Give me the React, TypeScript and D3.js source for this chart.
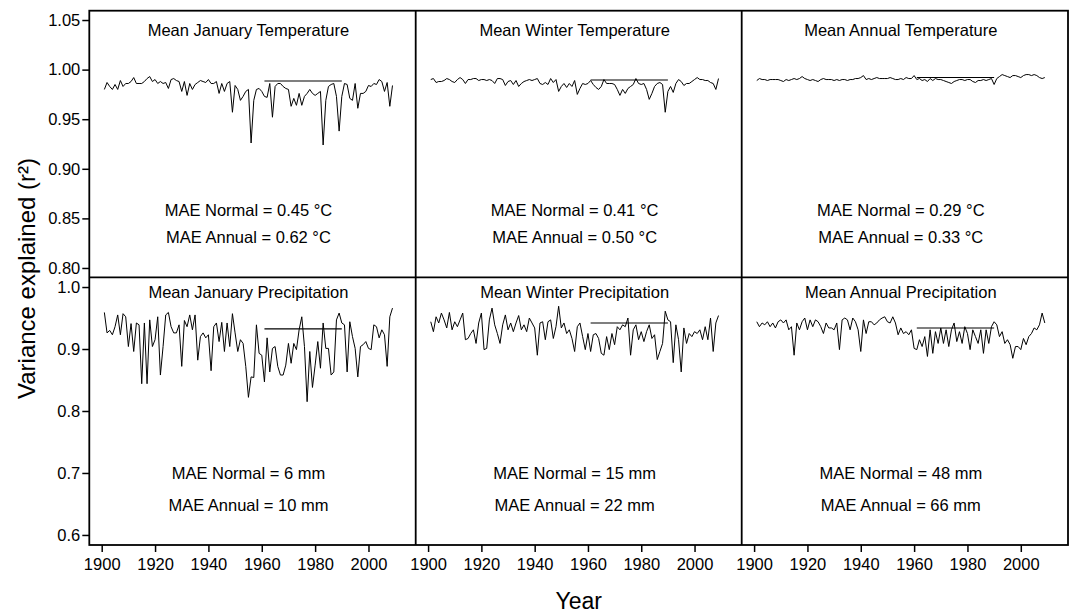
import React, { useEffect, useRef } from 'react';
import * as d3 from 'd3';

// yearly r² values, 1901-2009
const startYear = 1901;

const janTemp = [
    .980, .987, .983, .980, .985, .980, .989, .983, .986, .986,
    .988, .992, .986, .986, .986, .988, .991, .993, .988, .990,
    .986, .988, .986, .987, .981, .990, .991, .989, .988, .978,
    .988, .974, .986, .980, .985, .987, .989, .988, .987, .990,
    .986, .986, .988, .976, .986, .978, .986, .988, .957, .984,
    .980, .969, .973, .978, .980, .926, .969, .980, .981, .978,
    .973, .972, .986, .952, .983, .986, .986, .983, .981, .980,
    .963, .971, .964, .976, .964, .973, .976, .980, .976, .974,
    .976, .978, .924, .969, .983, .985, .986, .973, .938, .973,
    .986, .985, .971, .969, .986, .961, .976, .976, .978, .984,
    .983, .986, .985, .990, .988, .978, .987, .963, .984
];

const winTemp = [
    .990, .991, .987, .988, .988, .989, .991, .990, .988, .987,
    .990, .992, .990, .986, .990, .990, .991, .991, .989, .990,
    .990, .989, .990, .989, .986, .991, .991, .990, .984, .988,
    .989, .985, .989, .983, .986, .988, .989, .990, .989, .990,
    .991, .986, .985, .987, .985, .991, .987, .990, .978, .983,
    .986, .982, .986, .983, .989, .975, .981, .986, .985, .986,
    .989, .985, .982, .980, .983, .990, .986, .986, .986, .985,
    .980, .974, .980, .976, .981, .983, .985, .991, .986, .985,
    .986, .980, .970, .976, .983, .986, .987, .985, .957, .978,
    .983, .977, .986, .990, .988, .984, .986, .986, .988, .990,
    .992, .990, .990, .989, .989, .987, .986, .980, .991
];

const annTemp = [
    .989, .991, .990, .990, .989, .990, .990, .990, .990, .989,
    .988, .990, .989, .990, .991, .990, .991, .993, .991, .990,
    .989, .990, .989, .988, .990, .991, .990, .990, .990, .989,
    .990, .989, .990, .990, .989, .990, .990, .991, .991, .992,
    .994, .990, .991, .990, .991, .992, .991, .991, .991, .991,
    .992, .991, .990, .990, .991, .990, .992, .991, .991, .994,
    .990, .991, .989, .990, .988, .991, .989, .991, .990, .990,
    .989, .988, .987, .986, .988, .989, .990, .990, .989, .990,
    .990, .988, .987, .989, .989, .990, .989, .990, .991, .985,
    .991, .993, .995, .994, .993, .992, .994, .994, .993, .992,
    .994, .995, .995, .994, .995, .994, .992, .991, .992
];

const janPrec = [
    .959, .926, .930, .923, .936, .955, .923, .957, .952, .904,
    .941, .896, .942, .939, .844, .942, .844, .947, .904, .915,
    .952, .858, .904, .955, .959, .936, .926, .926, .939, .872,
    .946, .936, .955, .931, .955, .882, .920, .926, .918, .923,
    .865, .936, .942, .912, .943, .896, .942, .904, .957, .926,
    .896, .915, .909, .872, .822, .855, .854, .939, .893, .890,
    .847, .918, .863, .901, .904, .872, .858, .858, .874, .909,
    .877, .909, .899, .931, .952, .904, .815, .896, .838, .874,
    .912, .869, .942, .901, .901, .858, .863, .947, .958, .942,
    .939, .863, .944, .920, .901, .855, .904, .907, .912, .901,
    .899, .939, .936, .918, .931, .923, .872, .952, .966
];

const winPrec = [
    .944, .928, .952, .942, .958, .947, .934, .959, .931, .944,
    .936, .947, .958, .915, .917, .925, .931, .909, .942, .958,
    .899, .901, .947, .966, .939, .925, .909, .939, .955, .931,
    .942, .928, .942, .954, .931, .939, .928, .950, .942, .934,
    .890, .942, .944, .915, .944, .947, .917, .936, .969, .934,
    .942, .925, .931, .917, .896, .936, .942, .920, .899, .925,
    .896, .923, .925, .917, .893, .890, .920, .899, .925, .907,
    .936, .931, .939, .936, .950, .890, .931, .939, .915, .928,
    .912, .928, .939, .917, .923, .883, .896, .909, .961, .947,
    .944, .878, .939, .915, .863, .934, .909, .925, .920, .928,
    .925, .931, .915, .936, .915, .950, .896, .942, .954
];

const annPrec = [
    .944, .936, .942, .939, .944, .936, .942, .934, .944, .947,
    .942, .947, .931, .936, .890, .942, .931, .944, .950, .931,
    .947, .936, .947, .944, .936, .925, .942, .934, .934, .931,
    .942, .899, .947, .950, .947, .931, .950, .944, .931, .896,
    .947, .925, .944, .944, .939, .942, .947, .950, .952, .944,
    .942, .952, .942, .923, .934, .925, .928, .923, .931, .901,
    .899, .915, .904, .920, .888, .931, .893, .928, .909, .934,
    .909, .931, .904, .931, .942, .912, .928, .909, .936, .925,
    .899, .931, .920, .909, .931, .893, .931, .909, .936, .944,
    .939, .920, .928, .909, .915, .907, .885, .904, .904, .899,
    .917, .907, .920, .925, .934, .931, .939, .958, .942
];

const panelSeries = [janTemp, winTemp, annTemp, janPrec, winPrec, annPrec];

const panelTitles = [
    'Mean January Temperature', 'Mean Winter Temperature', 'Mean Annual Temperature',
    'Mean January Precipitation', 'Mean Winter Precipitation', 'Mean Annual Precipitation'
];

// r² of the 1961-1990 normal
const normalValues = [0.9885, 0.9895, 0.992, 0.9325, 0.942, 0.934];
const normalPeriod = [1961, 1990];

const maeNormal = ['0.45 °C', '0.41 °C', '0.29 °C', '6 mm', '15 mm', '48 mm'];
const maeAnnual = ['0.62 °C', '0.50 °C', '0.33 °C', '10 mm', '22 mm', '66 mm'];

const topTicks = [0.80, 0.85, 0.90, 0.95, 1.00, 1.05];
const bottomTicks = [0.6, 0.7, 0.8, 0.9, 1.0];
const yearTicks = [1900, 1920, 1940, 1960, 1980, 2000];

const font = '"Liberation Sans", Arial, Helvetica, sans-serif';

const App: React.FC = () => {
    const svgRef = useRef(null);

    const width = 1072;
    const height = 612;

    useEffect(() => {
        const svg = d3.select(svgRef.current);
        svg.selectAll("*").remove();

        const colEdges = [89.3, 415.7, 741.7, 1068];
        const rowEdges = [10.7, 277.3, 545];

        const yScales = [
            d3.scaleLinear().domain([0.7906, 1.0594]).range([rowEdges[1], rowEdges[0]]),
            d3.scaleLinear().domain([0.5838, 1.0157]).range([rowEdges[2], rowEdges[1]])
        ];
        const titleOffset = [25, 21];
        const maeY = [[216, 243.3], [479.3, 510.7]];

        panelSeries.forEach((series, i) => {
            const row = Math.floor(i / 3);
            const col = i % 3;
            const x = d3.scaleLinear().domain([1895.35, 2017.7]).range([colEdges[col], colEdges[col + 1]]);
            const y = yScales[row];

            const line = d3.line<number>()
                .x((d, j) => x(startYear + j))
                .y(d => y(d));

            svg.append("path")
                .datum(series)
                .attr("d", line)
                .attr("fill", "none")
                .attr("stroke", "black")
                .attr("stroke-width", 1)
                .attr("stroke-linejoin", "miter");

            svg.append("line")
                .attr("x1", x(normalPeriod[0]))
                .attr("x2", x(normalPeriod[1]))
                .attr("y1", y(normalValues[i]))
                .attr("y2", y(normalValues[i]))
                .attr("stroke", "black")
                .attr("stroke-width", 1.1);

            const cx = x(1955);
            svg.append("text")
                .attr("x", cx)
                .attr("y", rowEdges[row] + titleOffset[row])
                .attr("text-anchor", "middle")
                .attr("font-size", 16.5)
                .attr("font-family", font)
                .text(panelTitles[i]);

            svg.append("text")
                .attr("x", cx)
                .attr("y", maeY[row][0])
                .attr("text-anchor", "middle")
                .attr("font-size", 16.5)
                .attr("font-family", font)
                .text(`MAE Normal = ${maeNormal[i]}`);

            svg.append("text")
                .attr("x", cx)
                .attr("y", maeY[row][1])
                .attr("text-anchor", "middle")
                .attr("font-size", 16.5)
                .attr("font-family", font)
                .text(`MAE Annual = ${maeAnnual[i]}`);

            if (row === 1) {
                const ax = svg.append("g")
                    .attr("transform", `translate(0,${rowEdges[2]})`)
                    .call(d3.axisBottom(x).tickValues(yearTicks).tickFormat(d3.format("d")).tickSize(7).tickPadding(6.5));
                ax.select(".domain").remove();
                ax.selectAll("line").attr("stroke-width", 1.5);
                ax.selectAll("text").attr("font-size", 16.5).attr("font-family", font);
            }
        });

        // y axes on the left column
        const axTop = svg.append("g")
            .attr("transform", `translate(${colEdges[0]},0)`)
            .call(d3.axisLeft(yScales[0]).tickValues(topTicks).tickFormat(d3.format(".2f")).tickSize(7).tickPadding(2));
        const axBottom = svg.append("g")
            .attr("transform", `translate(${colEdges[0]},0)`)
            .call(d3.axisLeft(yScales[1]).tickValues(bottomTicks).tickFormat(d3.format(".1f")).tickSize(7).tickPadding(2));
        [axTop, axBottom].forEach(ax => {
            ax.select(".domain").remove();
            ax.selectAll("line").attr("stroke-width", 1.5);
            ax.selectAll("text").attr("font-size", 16.5).attr("font-family", font);
        });

        // frame and panel dividers
        svg.append("rect")
            .attr("x", colEdges[0])
            .attr("y", rowEdges[0])
            .attr("width", colEdges[3] - colEdges[0])
            .attr("height", rowEdges[2] - rowEdges[0])
            .attr("fill", "none")
            .attr("stroke", "black")
            .attr("stroke-width", 1.8);

        svg.append("line")
            .attr("x1", colEdges[0]).attr("x2", colEdges[3])
            .attr("y1", rowEdges[1]).attr("y2", rowEdges[1])
            .attr("stroke", "black").attr("stroke-width", 1.8);

        [colEdges[1], colEdges[2]].forEach(cx => {
            svg.append("line")
                .attr("x1", cx).attr("x2", cx)
                .attr("y1", rowEdges[0]).attr("y2", rowEdges[2])
                .attr("stroke", "black").attr("stroke-width", 1.8);
        });

        // axis titles
        svg.append("text")
            .attr("transform", `translate(35,278.5) rotate(-90)`)
            .attr("text-anchor", "middle")
            .attr("font-size", 24)
            .attr("font-family", font)
            .text("Variance explained (r²)");

        svg.append("text")
            .attr("x", (colEdges[0] + colEdges[3]) / 2)
            .attr("y", 608.5)
            .attr("text-anchor", "middle")
            .attr("font-size", 23)
            .attr("font-family", font)
            .text("Year");
    }, []);

    return (
        <svg ref={svgRef} width={width} height={height}
            style={{ position: 'absolute', left: 0, top: 0, backgroundColor: 'white' }}></svg>
    );
};

export default App;
